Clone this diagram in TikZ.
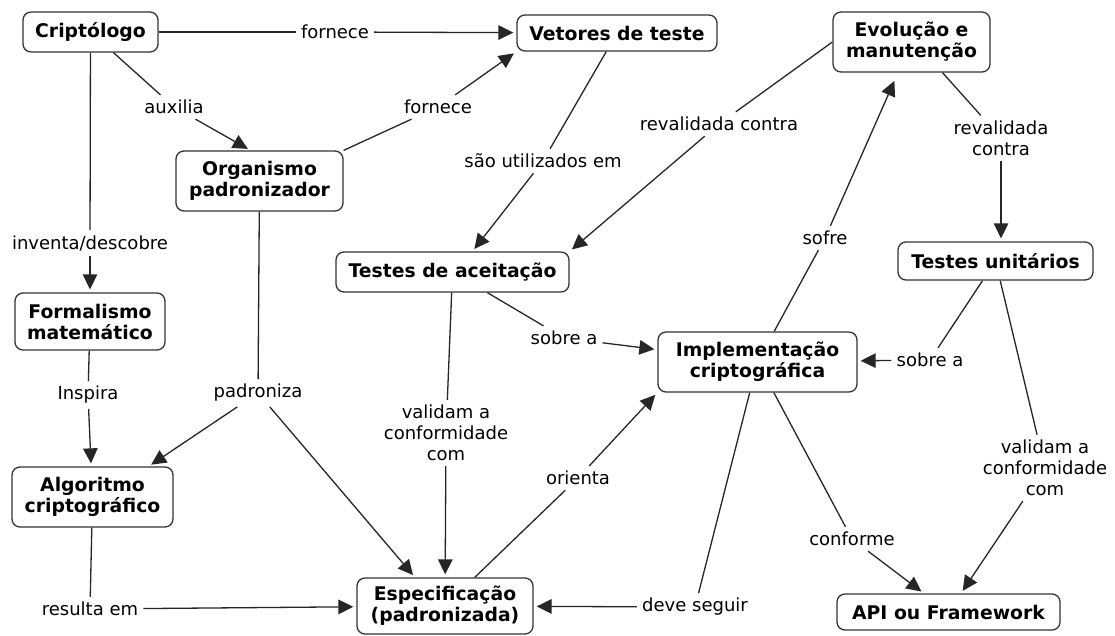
\documentclass[tikz,border=0pt]{standalone}
\usepackage{fontspec}
\setmainfont{DejaVu Sans}
\usetikzlibrary{arrows.meta}

\tikzset{
  concept/.style={draw=black!80, line width=1.3pt, rounded corners=8pt,
    font=\bfseries\fontsize{18.8}{21}\selectfont, align=center, inner sep=0pt},
  linklabel/.style={font=\fontsize{18}{21}\selectfont, align=center, inner sep=5pt},
  edge/.style={draw=black!85, line width=1.3pt},
  arr/.style={edge, -{Triangle[length=15pt,width=14.5pt]}, shorten >=3pt}
}

\begin{document}
\begin{tikzpicture}[x=1pt, y=-1pt]
\useasboundingbox (0,0) rectangle (1115,635);

% concepts
\node[concept, minimum width=135pt, minimum height=40pt] (crip) at (90.5,32) {Criptólogo};
\node[concept, minimum width=200pt, minimum height=36pt] (vet) at (617,33) {Vetores de teste};
\node[concept, minimum width=157pt, minimum height=60pt] (evo) at (911.5,42) {Evolução e\\manutenção};
\node[concept, minimum width=167pt, minimum height=60pt] (org) at (259.5,181) {Organismo\\padronizador};
\node[concept, minimum width=233pt, minimum height=40pt] (ta) at (452.5,272) {Testes de aceitação};
\node[concept, minimum width=195pt, minimum height=38pt] (tu) at (995.5,261) {Testes unitários};
\node[concept, minimum width=150pt, minimum height=57pt] (form) at (90,321.5) {Formalismo\\matemático};
\node[concept, minimum width=199pt, minimum height=60pt] (impl) at (757.5,362) {Implementação\\criptográfica};
\node[concept, minimum width=161pt, minimum height=60pt] (alg) at (92.5,497) {Algoritmo\\criptográfico};
\node[concept, minimum width=176pt, minimum height=56pt] (esp) at (445,606) {Especificação\\(padronizada)};
\node[concept, minimum width=223pt, minimum height=36pt] (api) at (948.5,612) {API ou Framework};

% linking phrases
\node[linklabel] (l1) at (335,32) {fornece};
\node[linklabel] (l2) at (174,107) {auxilia};
\node[linklabel] (l3) at (438,107) {fornece};
\node[linklabel] (l4) at (90,243) {inventa/descobre};
\node[linklabel] (l5) at (543,161) {são utilizados em};
\node[linklabel] (l6) at (719,124) {revalidada contra};
\node[linklabel] (l7) at (1001,138) {revalidada\\contra};
\node[linklabel] (l8) at (88,395) {Inspira};
\node[linklabel] (l9) at (258,393) {padroniza};
\node[linklabel] (l10) at (564,338) {sobre a};
\node[linklabel] (l11) at (446,433) {validam a\\conformidade\\com};
\node[linklabel] (l12) at (578,478) {orienta};
\node[linklabel] (l13) at (90,609) {resulta em};
\node[linklabel] (l14) at (695,607) {deve seguir};
\node[linklabel] (l15) at (825,238) {sofre};
\node[linklabel] (l16) at (930,360) {sobre a};
\node[linklabel] (l17) at (1045,468) {validam a\\conformidade\\com};
\node[linklabel] (l18) at (852,539) {conforme};

% connections
\draw[edge] (crip) -- (l1);  \draw[arr] (l1) -- (vet);
\draw[edge] (crip) -- (l2);  \draw[arr] (l2) -- ([xshift=-9pt]org.north);
\draw[edge] (org.north east) -- (l3);  \draw[arr] (l3) -- (vet.south west);
\draw[edge] (crip) -- (l4);  \draw[arr] (l4) -- (form);
\draw[edge] (vet) -- (l5);  \draw[arr] (l5) -- ([xshift=20pt]ta.north);
\draw[edge] (evo.west) -- (l6);  \draw[arr] (l6) -- (ta.north east);
\draw[edge] ([xshift=31pt]evo.south) -- (l7);  \draw[arr] (l7) -- ([xshift=5.5pt]tu.north);
\draw[edge] (form) -- (l8);  \draw[arr] (l8) -- (alg);
\draw[edge] (org) -- (l9);
\draw[arr] (l9) -- ([xshift=-25pt]alg.north east);
\draw[arr] (l9) -- ([xshift=-30pt]esp.north);
\draw[edge] (ta) -- (l10);  \draw[arr] (l10) -- (impl);
\draw[edge] (ta) -- (l11);  \draw[arr] (l11) -- (esp);
\draw[edge] (esp) -- (l12);  \draw[arr] (l12) -- (impl.south west);
\draw[edge] (alg) -- (l13);  \draw[arr] (l13) -- (esp);
\draw[edge] (impl) -- (l14);  \draw[arr] (l14) -- (esp);
\draw[edge] (impl) -- (l15);  \draw[arr, shorten >=9pt] (l15) -- (evo);
\draw[edge] (tu) -- (l16);  \draw[arr] (l16) -- (impl);
\draw[edge] (tu) -- (l17);  \draw[arr] (l17) -- (api);
\draw[edge] (impl) -- (l18);  \draw[arr] (l18) -- (api);
\end{tikzpicture}
\end{document}
